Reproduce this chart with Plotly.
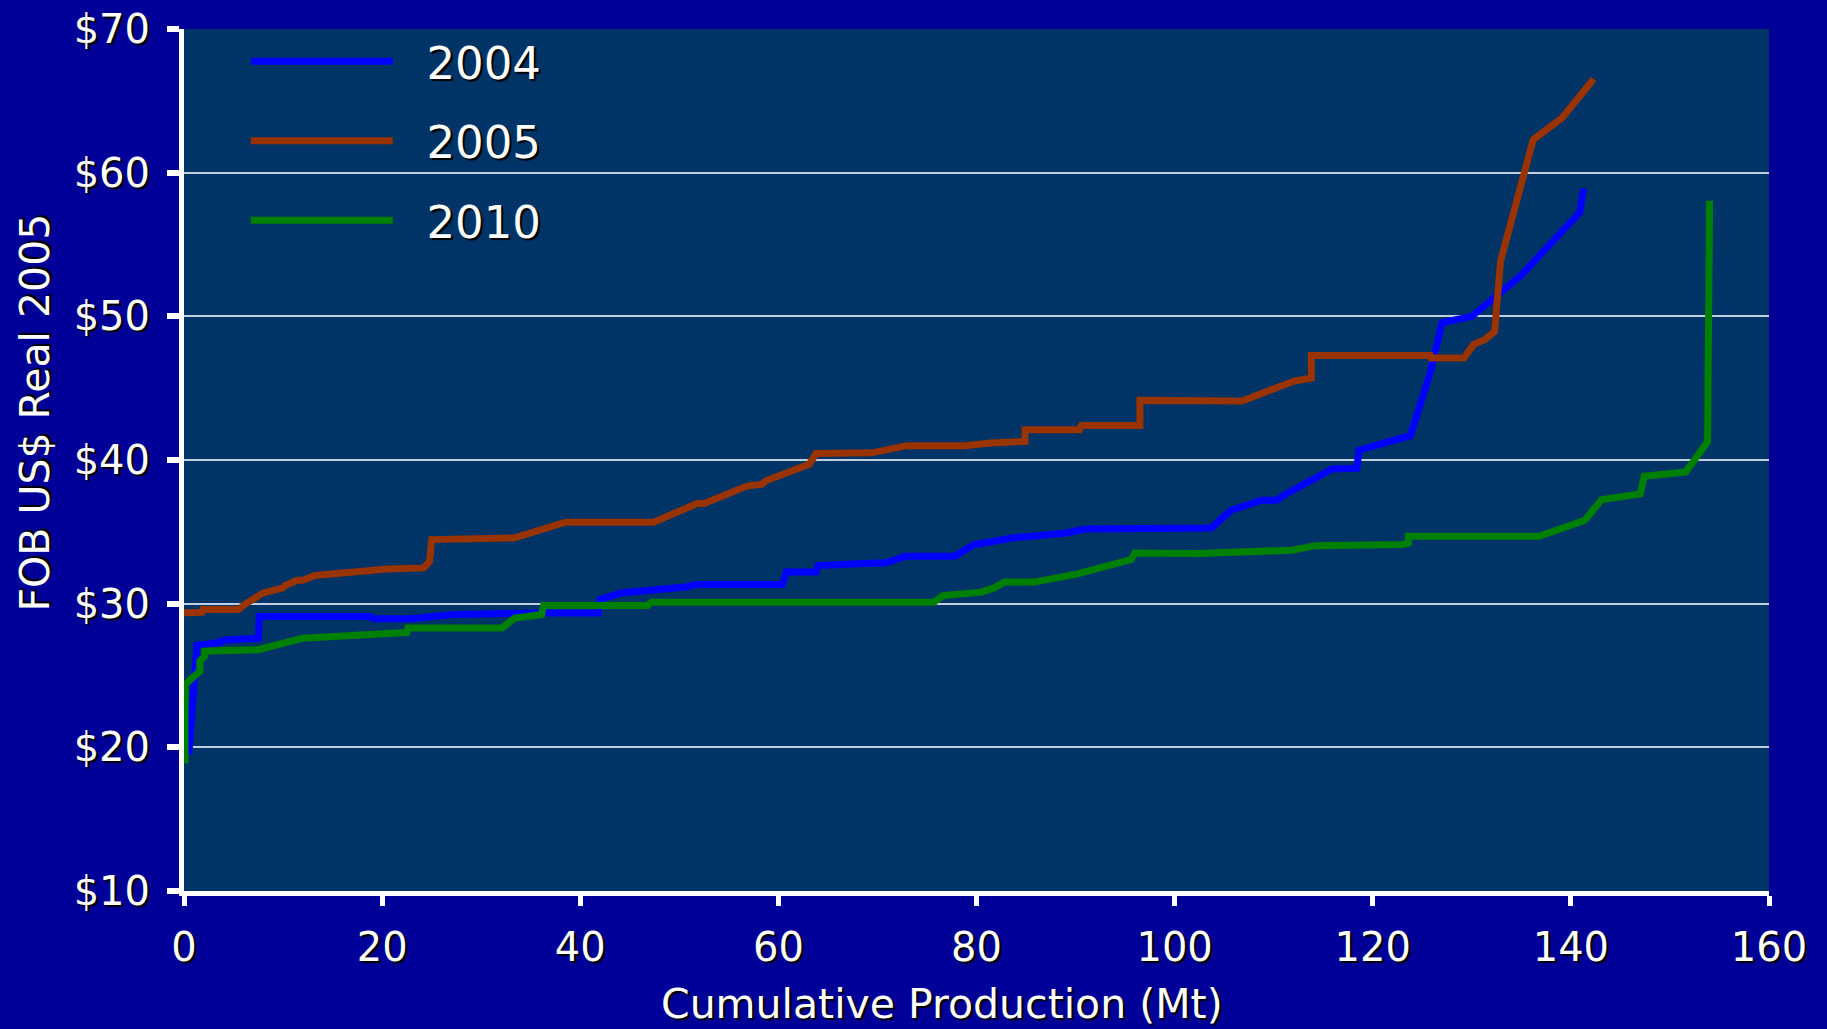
import plotly.graph_objects as go

# ---- data ----
x_2004 = [0.5, 1.3, 3.6, 4.0, 7.5, 7.6, 18.8, 19.1, 22.8, 27.2, 35.9, 41.8, 42.0, 44.1,
          50.8, 51.6, 60.4, 60.8, 63.8, 64.0, 68.0, 70.9, 72.8, 77.8, 79.7, 83.9, 88.9,
          91.0, 103.7, 105.7, 108.8, 110.3, 110.9, 115.9, 118.4, 118.6, 123.8, 125.8,
          127.0, 130.0, 134.9, 140.9, 141.3]
y_2004 = [19.5, 27.1, 27.3, 27.45, 27.6, 29.1, 29.1, 28.95, 28.95, 29.25, 29.35, 29.35,
          30.3, 30.75, 31.17, 31.33, 31.33, 32.2, 32.2, 32.65, 32.77, 32.84, 33.3, 33.3,
          34.1, 34.6, 34.9, 35.2, 35.27, 36.5, 37.2, 37.2, 37.5, 39.38, 39.42, 40.68,
          41.7, 46.06, 49.55, 50.0, 52.8, 57.24, 58.9]

x_2005 = [0.0, 1.8, 1.9, 5.5, 6.1, 8.0, 10.0, 10.2, 11.4, 12.0, 13.2, 20.5, 24.2, 24.8,
          25.0, 28.2, 33.4, 38.5, 47.4, 51.8, 52.5, 56.9, 58.3, 58.8, 63.1, 63.8, 69.4,
          73.0, 78.8, 81.4, 84.9, 84.9, 90.4, 90.6, 96.5, 96.5, 106.8, 112.0, 113.8,
          113.8, 125.8, 125.9, 129.2, 130.2, 131.3, 132.3, 132.9, 135.2, 136.2, 139.1,
          142.3]
y_2005 = [29.36, 29.4, 29.59, 29.59, 29.94, 30.75, 31.1, 31.26, 31.63, 31.63, 31.96,
          32.42, 32.49, 32.95, 34.46, 34.5, 34.58, 35.67, 35.67, 36.97, 36.97, 38.2,
          38.3, 38.57, 39.7, 40.45, 40.5, 41.0, 41.0, 41.19, 41.3, 42.1, 42.1, 42.4,
          42.4, 44.15, 44.1, 45.48, 45.71, 47.27, 47.27, 47.1, 47.1, 48.05, 48.38,
          48.93, 53.83, 59.74, 62.3, 63.8, 66.52]

x_2010 = [0.1, 0.1, 1.6, 1.6, 2.1, 2.1, 7.5, 12.0, 22.5, 22.6, 32.1, 33.4, 36.1, 36.3,
          46.8, 47.2, 75.7, 76.6, 80.5, 81.8, 82.8, 85.8, 90.2, 94.4, 95.6, 96.0, 102.3,
          111.8, 114.2, 123.0, 123.6, 123.6, 136.8, 141.4, 142.0, 143.1, 147.0, 147.4,
          151.6, 153.8, 154.0]
y_2010 = [18.9, 24.37, 25.3, 26.0, 26.34, 26.69, 26.8, 27.6, 28.0, 28.3, 28.3, 29.0,
          29.24, 29.87, 29.87, 30.1, 30.1, 30.56, 30.8, 31.1, 31.5, 31.5, 32.07, 32.77,
          33.07, 33.53, 33.5, 33.72, 34.04, 34.11, 34.23, 34.69, 34.69, 35.8, 36.32,
          37.24, 37.64, 38.87, 39.17, 41.26, 58.05]

series_names = ["2004", "2005", "2010"]
series_colors = ["#0000FF", "#993300", "#008000"]

x_ticks = [0, 20, 40, 60, 80, 100, 120, 140, 160]
y_ticks = [10, 20, 30, 40, 50, 60, 70]
y_tick_labels = ["$10", "$20", "$30", "$40", "$50", "$60", "$70"]

x_title = "Cumulative Production (Mt)"
y_title = "FOB US$ Real 2005"

# ---- figure ----
FONT = "DejaVu Sans"
SHADOW = "2px 2px 1px #000000"
NBSP = "\u00a0\u00a0"   # small gap between legend key and label

fig = go.Figure()
for name, xs, ys, col in zip(series_names, [x_2004, x_2005, x_2010],
                             [y_2004, y_2005, y_2010], series_colors):
    fig.add_trace(go.Scatter(x=xs, y=ys, mode="lines", name=NBSP + name,
                             legendgroup=name, line=dict(color=col, width=7)))

fig.update_layout(
    width=1827, height=1029,
    paper_bgcolor="#000099", plot_bgcolor="#003366",
    margin=dict(l=184, r=58, t=29, b=138),
    font=dict(family=FONT, color="white", size=40, shadow=SHADOW),
    legend=dict(x=0.039, y=1.004, xanchor="left", yanchor="top",
                bgcolor="rgba(0,0,0,0)", borderwidth=0,
                font=dict(family=FONT, size=45, color="white", shadow=SHADOW),
                itemwidth=142, traceorder="grouped", tracegroupgap=18),
    xaxis=dict(range=[0, 160], tickvals=x_ticks, showgrid=False, zeroline=False,
               showline=True, linecolor="white", linewidth=5, automargin=False,
               ticks="outside", ticklen=10, tickwidth=5, tickcolor="white",
               tickfont=dict(size=40), ticklabelstandoff=7),
    yaxis=dict(range=[10, 70], tickvals=y_ticks, ticktext=y_tick_labels,
               showgrid=True, gridcolor="rgba(225,235,245,0.85)", gridwidth=1.5,
               zeroline=False, showline=True, linecolor="white", linewidth=5,
               automargin=False,
               ticks="outside", ticklen=12, tickwidth=6, tickcolor="white",
               tickfont=dict(size=40), ticklabelstandoff=9),
    annotations=[
        dict(text=x_title, xref="paper", yref="paper", x=0.478, y=-0.131,
             xanchor="center", yanchor="middle", showarrow=False,
             font=dict(size=41, color="white", family=FONT, shadow=SHADOW)),
        dict(text=y_title, xref="paper", yref="paper", x=-0.094, y=0.555,
             xanchor="center", yanchor="middle", showarrow=False, textangle=-90,
             font=dict(size=41, color="white", family=FONT, shadow=SHADOW)),
    ],
)

fig.write_html("out.html",
               config={"displayModeBar": False},
               post_script="document.body.style.margin='0';"
                           "document.body.style.overflow='hidden';")
